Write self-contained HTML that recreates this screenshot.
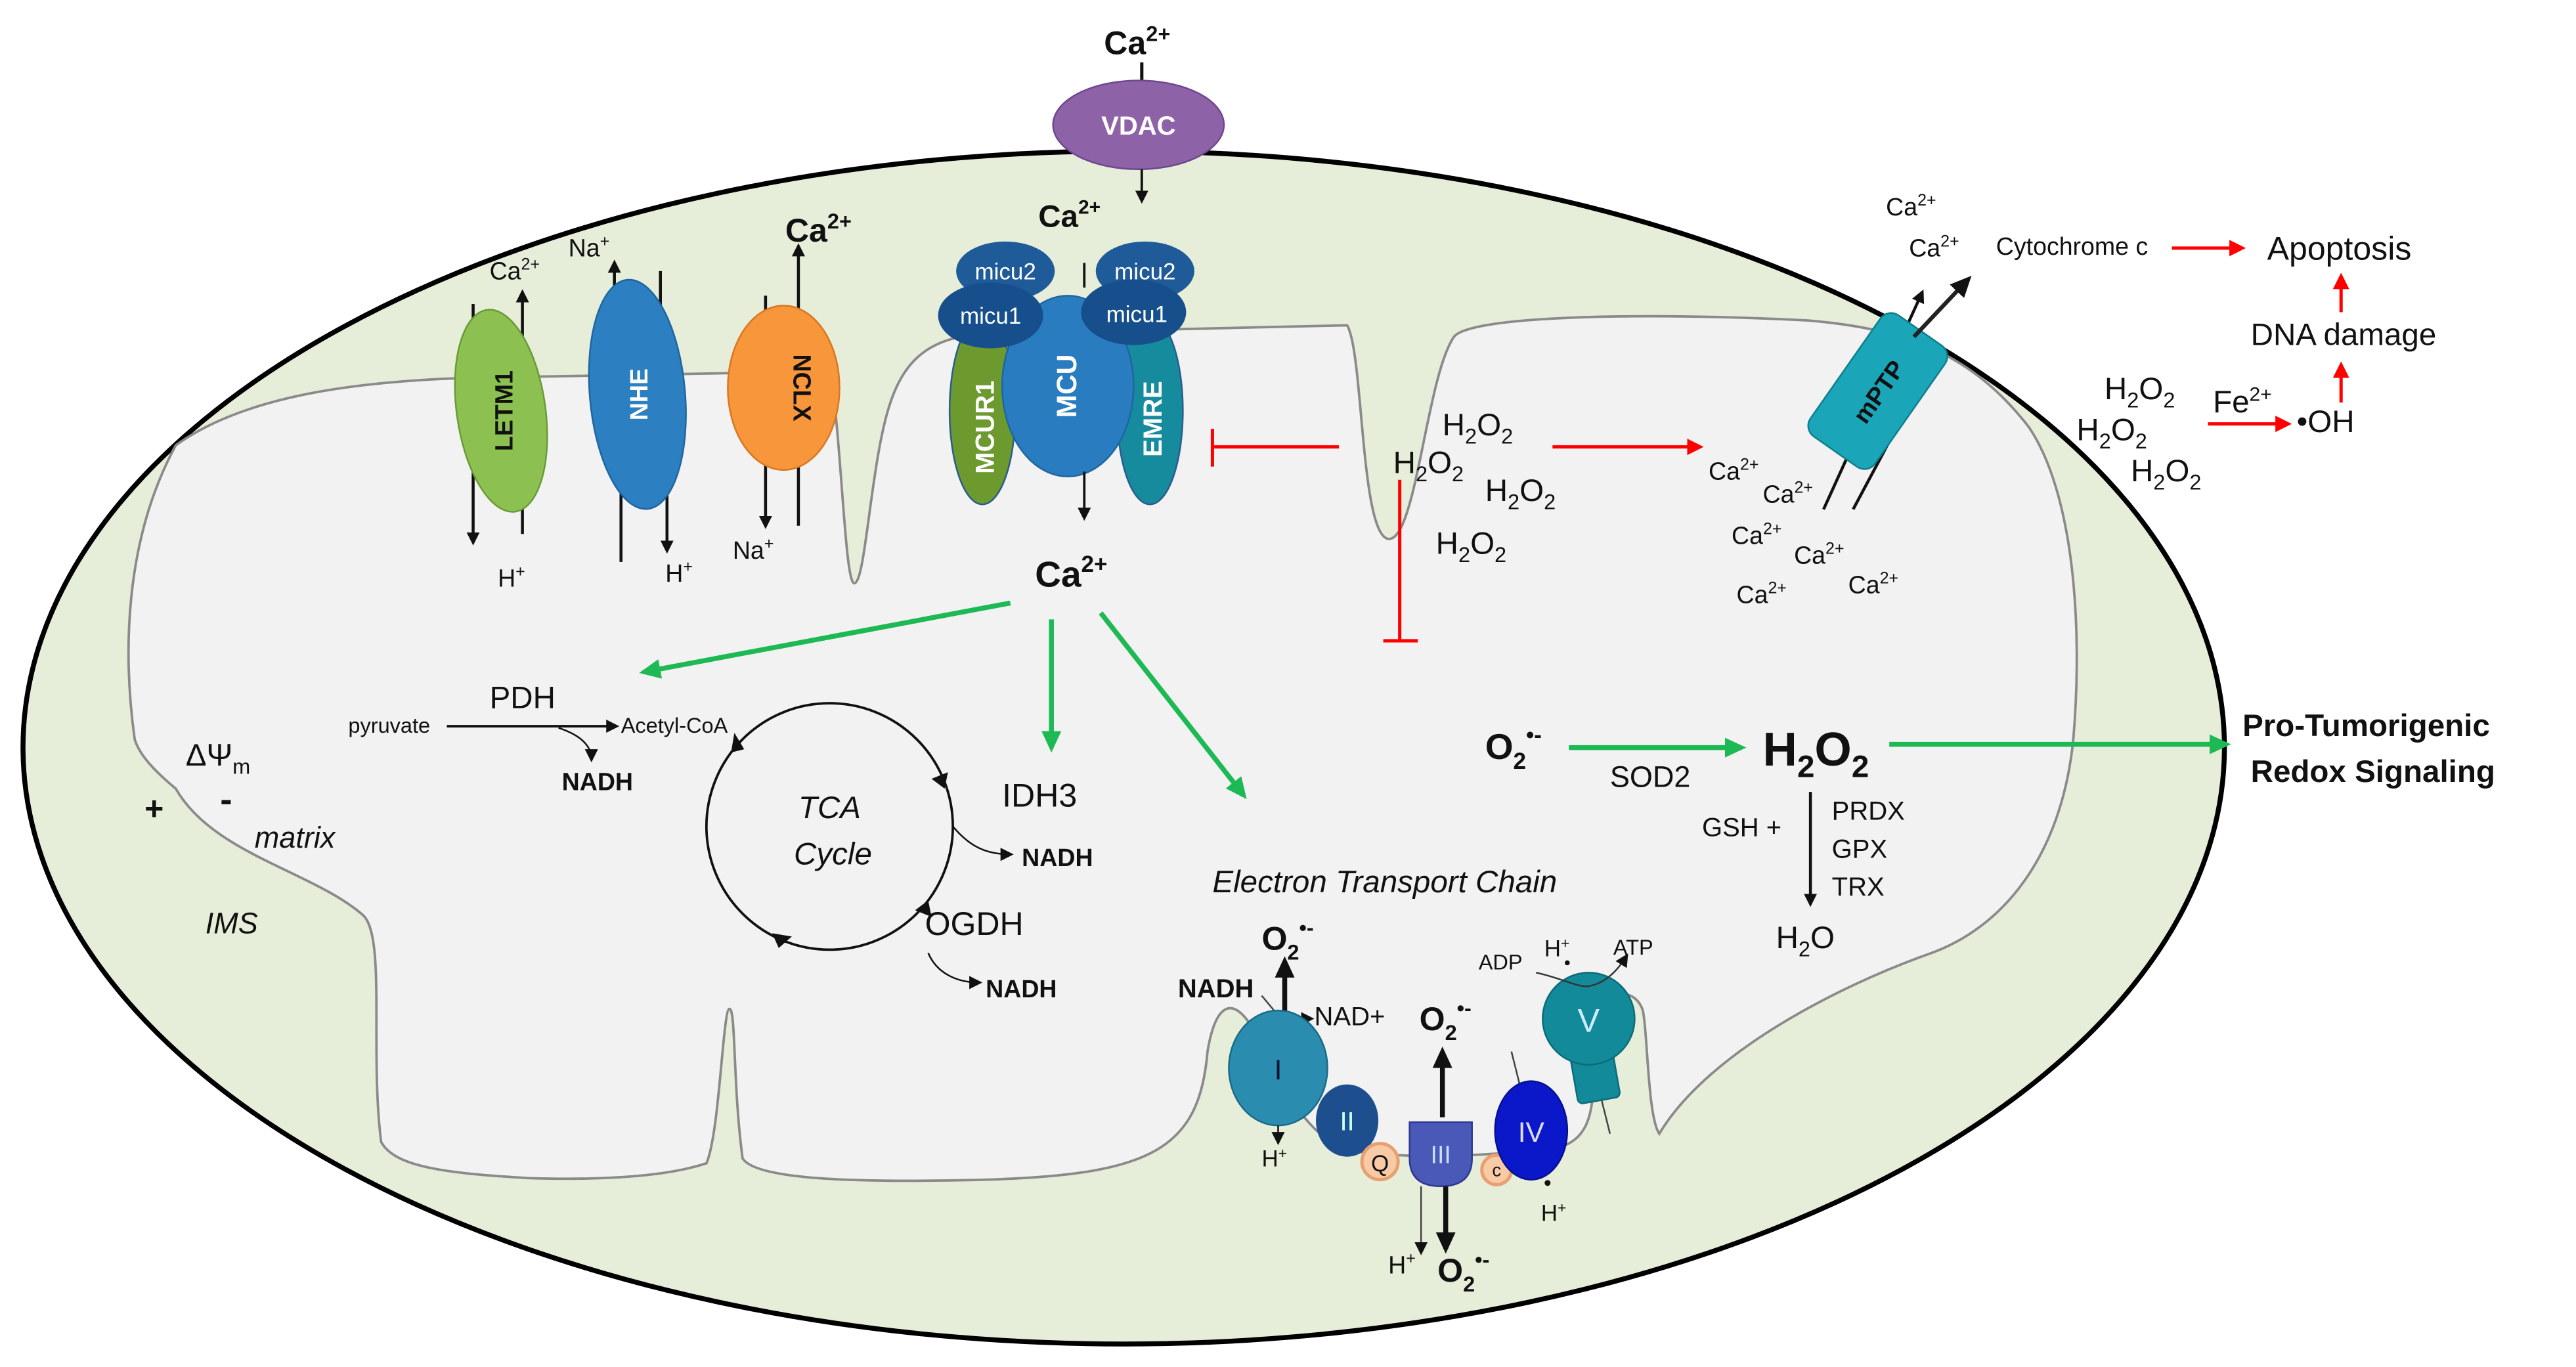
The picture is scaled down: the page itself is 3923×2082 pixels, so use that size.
<!DOCTYPE html>
<html><head><meta charset="utf-8"><style>
html,body{margin:0;padding:0;background:#fff;}
svg{display:block;}
text{font-family:"Liberation Sans",Arial,sans-serif;fill:#111;}
.b{font-weight:bold;}
.i{font-style:italic;}
</style></head><body>
<svg width="3923" height="2082" viewBox="0 0 1568 832" preserveAspectRatio="none" xmlns="http://www.w3.org/2000/svg">
<defs>
<marker id="ak" markerWidth="8" markerHeight="8" refX="6" refY="4" orient="auto" markerUnits="userSpaceOnUse"><path d="M0,0 L8,4 L0,8 z" fill="#111"/></marker>
<marker id="ag" markerWidth="14" markerHeight="14" refX="10" refY="7" orient="auto" markerUnits="userSpaceOnUse"><path d="M0,1 L13,7 L0,13 z" fill="#1db954"/></marker>
<marker id="ar" markerWidth="10" markerHeight="10" refX="8" refY="5" orient="auto" markerUnits="userSpaceOnUse"><path d="M0,0 L10,5 L0,10 z" fill="#f00"/></marker>
<marker id="akb" markerWidth="14" markerHeight="14" refX="10" refY="7" orient="auto" markerUnits="userSpaceOnUse"><path d="M0,1 L13,7 L0,13 z" fill="#111"/></marker>
</defs>
<rect width="1568" height="832" fill="#fff"/>
<!-- outer membrane -->
<ellipse cx="684" cy="455" rx="670" ry="363" fill="#e6edd8" stroke="#000" stroke-width="3"/>
<!-- inner membrane -->
<path d="M82,450 C75,400 75,330 107,271 C150,240 220,232 285,230 L505,226 C512,260 514,355 520,355 C527,355 530,280 542,245 C552,215 570,205 600,203 L820,198 C830,215 828,325 845,328 C862,330 868,230 885,205 C895,192 1000,190 1100,195 C1160,200 1200,215 1235,260 C1262,300 1268,380 1262,450 C1255,520 1220,565 1173,581 C1120,600 1040,640 1010,690 C1003,680 1003,630 1000,615 C995,600 975,600 972,630 C968,660 975,690 950,698 C900,705 850,705 820,700 C790,690 770,640 760,622 C750,608 740,610 735,640 C730,700 700,715 600,718 C520,720 460,718 452,705 C446,660 448,614 444,614 C440,614 438,690 430,708 C400,718 350,718 321,717 C270,714 240,710 232,695 C225,640 235,570 221,557 C190,530 130,520 107,480 C95,470 85,460 82,450 Z" fill="#f2f2f2" stroke="#8a8a8a" stroke-width="1.5"/>

<!-- top Ca VDAC -->
<text x="672" y="33" class="b" font-size="20">Ca<tspan font-size="13" dy="-8">2+</tspan></text>
<line x1="695" y1="38" x2="695" y2="52" stroke="#111" stroke-width="2"/>
<ellipse cx="693" cy="76" rx="52" ry="27" fill="#8e62a6" stroke="#6d4790" stroke-width="1"/>
<text x="693" y="82" text-anchor="middle" class="b" font-size="16" style="fill:#fff">VDAC</text>
<line x1="695" y1="103" x2="695" y2="122" stroke="#111" stroke-width="1.5" marker-end="url(#ak)"/>
<text x="632" y="138" class="b" font-size="19">Ca<tspan font-size="12" dy="-8">2+</tspan></text>

<!-- LETM1 -->
<line x1="288" y1="185" x2="288" y2="330" stroke="#111" stroke-width="1.8" marker-end="url(#ak)"/>
<line x1="318" y1="325" x2="318" y2="178" stroke="#111" stroke-width="1.8" marker-end="url(#ak)"/>
<ellipse cx="305" cy="250" rx="27" ry="62" transform="rotate(-8 305 250)" fill="#8cc152" stroke="#6a9a38"/>
<text transform="translate(312,250) rotate(-90)" text-anchor="middle" class="b" font-size="15">LETM1</text>
<text x="298" y="170" font-size="15">Ca<tspan font-size="10" dy="-6">2+</tspan></text>
<text x="303" y="357" font-size="15">H<tspan font-size="10" dy="-6">+</tspan></text>
<!-- NHE -->
<line x1="374" y1="190" x2="374" y2="160" stroke="#111" stroke-width="1.8" marker-end="url(#ak)"/>
<line x1="402" y1="165" x2="402" y2="200" stroke="#111" stroke-width="1.8"/>
<line x1="378" y1="290" x2="378" y2="342" stroke="#111" stroke-width="1.8"/>
<line x1="406" y1="290" x2="406" y2="335" stroke="#111" stroke-width="1.8" marker-end="url(#ak)"/>
<ellipse cx="388" cy="240" rx="29" ry="70" transform="rotate(-5 388 240)" fill="#2c7fc0" stroke="#1f66a0"/>
<text transform="translate(394,240) rotate(-90)" text-anchor="middle" class="b" font-size="15" style="fill:#fff">NHE</text>
<text x="346" y="156" font-size="15">Na<tspan font-size="10" dy="-6">+</tspan></text>
<text x="405" y="354" font-size="15">H<tspan font-size="10" dy="-6">+</tspan></text>
<!-- NCLX -->
<line x1="466" y1="180" x2="466" y2="320" stroke="#111" stroke-width="1.8" marker-end="url(#ak)"/>
<line x1="486" y1="320" x2="486" y2="150" stroke="#111" stroke-width="1.8" marker-end="url(#ak)"/>
<ellipse cx="477" cy="236" rx="34" ry="50" fill="#f7963b" stroke="#d97720"/>
<text transform="translate(483,236) rotate(90)" text-anchor="middle" class="b" font-size="15">NCLX</text>
<text x="478" y="147" class="b" font-size="20">Ca<tspan font-size="13" dy="-8">2+</tspan></text>
<text x="446" y="340" font-size="15">Na<tspan font-size="10" dy="-6">+</tspan></text>

<!-- MCU complex -->
<ellipse cx="598" cy="250" rx="20" ry="57" fill="#6d9a2e" stroke="#2a5c8c"/>
<ellipse cx="700" cy="250" rx="20" ry="57" fill="#168b9e" stroke="#2a5c8c"/>
<ellipse cx="650" cy="235" rx="40" ry="55" fill="#2a7cc0" stroke="#1f66a0"/>
<ellipse cx="612" cy="165" rx="30" ry="18" fill="#1f5b99"/>
<ellipse cx="603" cy="192" rx="32" ry="20" fill="#174f8c"/>
<ellipse cx="697" cy="165" rx="30" ry="18" fill="#1f5b99"/>
<ellipse cx="690" cy="190" rx="32" ry="20" fill="#174f8c"/>
<text x="612" y="170" text-anchor="middle" font-size="14" style="fill:#fff">micu2</text>
<text x="603" y="197" text-anchor="middle" font-size="14" style="fill:#fff">micu1</text>
<text x="697" y="170" text-anchor="middle" font-size="14" style="fill:#fff">micu2</text>
<text x="692" y="196" text-anchor="middle" font-size="14" style="fill:#fff">micu1</text>
<text transform="translate(605,260) rotate(-90)" text-anchor="middle" class="b" font-size="16" style="fill:#fff">MCUR1</text>
<text transform="translate(655,235) rotate(-90)" text-anchor="middle" class="b" font-size="17" style="fill:#fff">MCU</text>
<text transform="translate(707,255) rotate(-90)" text-anchor="middle" class="b" font-size="16" style="fill:#fff">EMRE</text>
<line x1="660" y1="160" x2="660" y2="175" stroke="#111" stroke-width="1.5"/>
<line x1="660" y1="287" x2="660" y2="315" stroke="#111" stroke-width="1.5" marker-end="url(#ak)"/>
<text x="630" y="357" class="b" font-size="22">Ca<tspan font-size="14" dy="-9">2+</tspan></text>

<!-- red inhibitions -->
<line x1="815" y1="272" x2="738" y2="272" stroke="#f00" stroke-width="2"/>
<line x1="738" y1="261" x2="738" y2="284" stroke="#f00" stroke-width="2"/>
<line x1="852" y1="292" x2="852" y2="390" stroke="#f00" stroke-width="2"/>
<line x1="842" y1="390" x2="863" y2="390" stroke="#f00" stroke-width="2"/>
<line x1="945" y1="272" x2="1035" y2="272" stroke="#f00" stroke-width="2" marker-end="url(#ar)"/>
<g font-size="19">
<text x="878" y="265">H<tspan font-size="13" dy="5">2</tspan><tspan dy="-5">O</tspan><tspan font-size="13" dy="5">2</tspan></text>
<text x="848" y="288">H<tspan font-size="13" dy="5">2</tspan><tspan dy="-5">O</tspan><tspan font-size="13" dy="5">2</tspan></text>
<text x="904" y="305">H<tspan font-size="13" dy="5">2</tspan><tspan dy="-5">O</tspan><tspan font-size="13" dy="5">2</tspan></text>
<text x="874" y="337">H<tspan font-size="13" dy="5">2</tspan><tspan dy="-5">O</tspan><tspan font-size="13" dy="5">2</tspan></text>
</g>
<g font-size="15">
<text x="1040" y="292">Ca<tspan font-size="10" dy="-6">2+</tspan></text>
<text x="1073" y="306">Ca<tspan font-size="10" dy="-6">2+</tspan></text>
<text x="1054" y="331">Ca<tspan font-size="10" dy="-6">2+</tspan></text>
<text x="1092" y="343">Ca<tspan font-size="10" dy="-6">2+</tspan></text>
<text x="1125" y="361">Ca<tspan font-size="10" dy="-6">2+</tspan></text>
<text x="1057" y="367">Ca<tspan font-size="10" dy="-6">2+</tspan></text>
</g>
<!-- mPTP -->
<line x1="1110" y1="310" x2="1170" y2="178" stroke="#111" stroke-width="1.8" marker-end="url(#ak)"/>
<line x1="1128" y1="310" x2="1160" y2="250" stroke="#111" stroke-width="1.8"/>
<g transform="rotate(35 1143 238)">
<rect x="1119" y="193" width="48" height="90" rx="8" fill="#1aa5b8" stroke="#0d7f8f"/>
<text transform="translate(1149,238) rotate(-90)" text-anchor="middle" class="b" font-size="15">mPTP</text>
</g>
<line x1="1165" y1="205" x2="1198" y2="170" stroke="#222" stroke-width="2.5" marker-end="url(#akb)"/>
<text x="1148" y="131" font-size="15">Ca<tspan font-size="10" dy="-6">2+</tspan></text>
<text x="1162" y="156" font-size="15">Ca<tspan font-size="10" dy="-6">2+</tspan></text>
<text x="1215" y="155" font-size="15">Cytochrome c</text>
<line x1="1322" y1="151" x2="1365" y2="151" stroke="#f00" stroke-width="2" marker-end="url(#ar)"/>
<text x="1380" y="158" font-size="20">Apoptosis</text>
<line x1="1425" y1="190" x2="1425" y2="168" stroke="#f00" stroke-width="2" marker-end="url(#ar)"/>
<text x="1370" y="210" font-size="19">DNA damage</text>
<line x1="1425" y1="245" x2="1425" y2="222" stroke="#f00" stroke-width="2" marker-end="url(#ar)"/>
<g font-size="19">
<text x="1281" y="243">H<tspan font-size="13" dy="5">2</tspan><tspan dy="-5">O</tspan><tspan font-size="13" dy="5">2</tspan></text>
<text x="1264" y="268">H<tspan font-size="13" dy="5">2</tspan><tspan dy="-5">O</tspan><tspan font-size="13" dy="5">2</tspan></text>
<text x="1297" y="293">H<tspan font-size="13" dy="5">2</tspan><tspan dy="-5">O</tspan><tspan font-size="13" dy="5">2</tspan></text>
</g>
<text x="1347" y="251" font-size="19">Fe<tspan font-size="12" dy="-7">2+</tspan></text>
<line x1="1344" y1="258" x2="1393" y2="258" stroke="#f00" stroke-width="2" marker-end="url(#ar)"/>
<text x="1398" y="263" font-size="19">•OH</text>

<!-- green arrows -->
<g stroke="#1db954" stroke-width="3">
<line x1="615" y1="367" x2="392" y2="409" marker-end="url(#ag)"/>
<line x1="640" y1="377" x2="640" y2="455" marker-end="url(#ag)"/>
<line x1="670" y1="373" x2="757" y2="484" marker-end="url(#ag)"/>
<line x1="955" y1="455" x2="1060" y2="455" marker-end="url(#ag)"/>
<line x1="1150" y1="453" x2="1355" y2="453" marker-end="url(#ag)"/>
</g>
<text x="1365" y="448" class="b" font-size="19">Pro-Tumorigenic</text>
<text x="1370" y="476" class="b" font-size="19">Redox Signaling</text>
<text x="904" y="462" class="b" font-size="22">O<tspan font-size="14" dy="6">2</tspan><tspan font-size="14" dy="-16">•-</tspan></text>
<text x="980" y="479" font-size="18">SOD2</text>
<text x="1073" y="466" class="b" font-size="29">H<tspan font-size="19" dy="7">2</tspan><tspan dy="-7">O</tspan><tspan font-size="19" dy="7">2</tspan></text>
<text x="1036" y="509" font-size="16">GSH +</text>
<line x1="1102" y1="482" x2="1102" y2="550" stroke="#111" stroke-width="1.8" marker-end="url(#ak)"/>
<text x="1115" y="499" font-size="16">PRDX</text>
<text x="1115" y="522" font-size="16">GPX</text>
<text x="1115" y="545" font-size="16">TRX</text>
<text x="1081" y="577" font-size="19">H<tspan font-size="13" dy="5">2</tspan><tspan dy="-5">O</tspan></text>

<!-- PDH -->
<text x="298" y="431" font-size="19">PDH</text>
<text x="212" y="446" font-size="13">pyruvate</text>
<line x1="272" y1="442" x2="375" y2="442" stroke="#111" stroke-width="1.5" marker-end="url(#ak)"/>
<text x="378" y="446" font-size="13">Acetyl-CoA</text>
<path d="M340,443 C355,448 360,455 360,462" fill="none" stroke="#111" stroke-width="1" marker-end="url(#ak)"/>
<text x="342" y="481" class="b" font-size="15">NADH</text>
<text x="113" y="466" font-size="19">ΔΨ<tspan font-size="13" dy="5">m</tspan></text>
<text x="88" y="499" class="b" font-size="20">+</text>
<text x="134" y="494" class="b" font-size="22">-</text>
<text x="155" y="516" class="i" font-size="18">matrix</text>
<text x="125" y="568" class="i" font-size="18">IMS</text>
<!-- TCA -->
<circle cx="505" cy="503" r="75" fill="none" stroke="#111" stroke-width="1.5"/>
<path d="M445,458 l2,-12 l6,10 z" fill="#111"/>
<path d="M575,480 l-8,-6 l10,-4 z" fill="#111"/>
<path d="M565,548 l2,10 l-10,-4 z" fill="#111"/>
<path d="M470,568 l12,2 l-8,7 z" fill="#111"/>
<text x="505" y="498" text-anchor="middle" class="i" font-size="19">TCA</text>
<text x="507" y="526" text-anchor="middle" class="i" font-size="19">Cycle</text>
<text x="610" y="491" font-size="20">IDH3</text>
<path d="M580,503 C590,515 600,520 615,520" fill="none" stroke="#111" stroke-width="1" marker-end="url(#ak)"/>
<text x="622" y="527" class="b" font-size="15">NADH</text>
<text x="563" y="569" font-size="20">OGDH</text>
<path d="M565,580 C570,592 582,598 596,598" fill="none" stroke="#111" stroke-width="1" marker-end="url(#ak)"/>
<text x="600" y="607" class="b" font-size="15">NADH</text>

<!-- ETC -->
<text x="738" y="543" class="i" font-size="19">Electron Transport Chain</text>
<line x1="782" y1="618" x2="782" y2="585" stroke="#111" stroke-width="3" marker-end="url(#akb)"/>
<text x="768" y="578" class="b" font-size="20">O<tspan font-size="13" dy="6">2</tspan><tspan font-size="13" dy="-15">•-</tspan></text>
<text x="717" y="607" class="b" font-size="16">NADH</text>
<path d="M768,606 L778,618" stroke="#444" stroke-width="1"/>
<line x1="786" y1="620" x2="798" y2="620" stroke="#444" stroke-width="1" marker-end="url(#ak)"/>
<text x="800" y="624" font-size="16">NAD+</text>
<ellipse cx="778" cy="650" rx="30" ry="35" fill="#2a8db0" stroke="#1a6a88"/>
<text x="778" y="657" text-anchor="middle" font-size="17" style="fill:#113">I</text>
<line x1="778" y1="685" x2="778" y2="695" stroke="#111" stroke-width="1" marker-end="url(#ak)"/>
<text x="768" y="710" font-size="14">H<tspan font-size="9" dy="-5">+</tspan></text>
<ellipse cx="820" cy="682" rx="19" ry="22" fill="#1d4f8f"/>
<text x="820" y="688" text-anchor="middle" font-size="16" style="fill:#cfe">II</text>
<circle cx="840" cy="707" r="11" fill="#f8cba6" stroke="#e8a070" stroke-width="2"/>
<text x="840" y="713" text-anchor="middle" font-size="14">Q</text>
<line x1="878" y1="680" x2="878" y2="640" stroke="#111" stroke-width="3" marker-end="url(#akb)"/>
<text x="864" y="627" class="b" font-size="20">O<tspan font-size="13" dy="6">2</tspan><tspan font-size="13" dy="-15">•-</tspan></text>
<path d="M858,683 L896,683 L896,705 Q896,722 877,722 Q858,722 858,705 Z" fill="#4a59b8" stroke="#2d3a90"/>
<text x="877" y="708" text-anchor="middle" font-size="15" style="fill:#cdf">III</text>
<line x1="880" y1="722" x2="880" y2="760" stroke="#111" stroke-width="3" marker-end="url(#akb)"/>
<line x1="865" y1="722" x2="865" y2="762" stroke="#444" stroke-width="1" marker-end="url(#ak)"/>
<text x="845" y="775" font-size="15">H<tspan font-size="10" dy="-6">+</tspan></text>
<text x="875" y="780" class="b" font-size="20">O<tspan font-size="13" dy="6">2</tspan><tspan font-size="13" dy="-15">•-</tspan></text>
<circle cx="911" cy="712" r="9" fill="#f8cba6" stroke="#e8a070" stroke-width="2"/>
<text x="911" y="716" text-anchor="middle" font-size="11">c</text>
<line x1="920" y1="640" x2="925" y2="660" stroke="#444" stroke-width="1"/>
<ellipse cx="932" cy="688" rx="22" ry="30" fill="#0b18c9" stroke="#071090"/>
<text x="932" y="695" text-anchor="middle" font-size="17" style="fill:#dde">IV</text>
<circle cx="942" cy="720" r="1.8" fill="#111"/>
<text x="938" y="743" font-size="14">H<tspan font-size="9" dy="-5">+</tspan></text>
<line x1="975" y1="670" x2="980" y2="690" stroke="#444" stroke-width="1"/>
<rect x="958" y="640" width="26" height="30" rx="3" fill="#138a9a" transform="rotate(-10 971 655)" stroke="#0c6b78"/>
<circle cx="967" cy="620" r="28" fill="#138a9a" stroke="#0c6b78"/>
<text x="967" y="628" text-anchor="middle" font-size="20" style="fill:#cef">V</text>
<path d="M935,592 C950,595 962,602 968,600 C978,598 985,590 990,582" fill="none" stroke="#333" stroke-width="1" marker-end="url(#ak)"/>
<text x="900" y="590" font-size="13">ADP</text>
<text x="940" y="582" font-size="14">H<tspan font-size="9" dy="-5">+</tspan></text>
<circle cx="954" cy="586" r="1.5" fill="#111"/>
<text x="982" y="581" font-size="13">ATP</text>
</svg>
</body></html>
